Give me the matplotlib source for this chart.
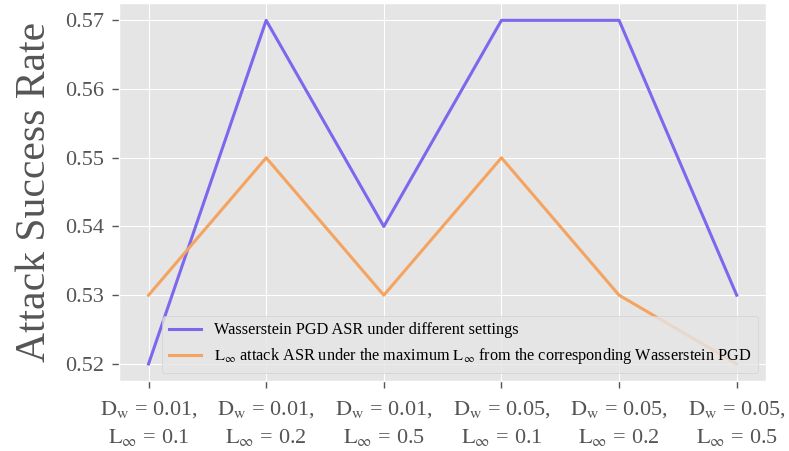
import matplotlib
matplotlib.use("Agg")
import matplotlib.pyplot as plt

plt.style.use("ggplot")
plt.rcParams["font.family"] = ["Liberation Serif", "DejaVu Serif"]
plt.rcParams["mathtext.fontset"] = "stix"

# settings (x axis)
dw = ["0.01", "0.01", "0.01", "0.05", "0.05", "0.05"]
linf = ["0.1", "0.2", "0.5", "0.1", "0.2", "0.5"]

# attack success rates
wasserstein_asr = [0.52, 0.57, 0.54, 0.57, 0.57, 0.53]
linf_asr = [0.53, 0.55, 0.53, 0.55, 0.53, 0.52]

labels = ["$\\mathrm{D_w}$ = %s,\n$\\mathrm{L_\\infty}$ = %s" % (a, b) for a, b in zip(dw, linf)]
x = list(range(len(labels)))

fig = plt.figure(figsize=(7.89, 4.51), dpi=100)
ax = fig.add_axes([0.151, 0.155, 0.82, 0.838])

ax.plot(x, wasserstein_asr, color="#7B68EE", linewidth=2.2,
        label="Wasserstein PGD ASR under different settings")
ax.plot(x, linf_asr, color="#F4A460", linewidth=2.2,
        label="$\\mathrm{L_\\infty}$ attack ASR under the maximum $\\mathrm{L_\\infty}$ from the corresponding Wasserstein PGD")

ax.set_xticks(x)
ax.set_xticklabels(labels, fontsize=16, linespacing=1.45)
ax.set_yticks([0.52, 0.53, 0.54, 0.55, 0.56, 0.57])
ax.set_yticklabels(["0.52", "0.53", "0.54", "0.55", "0.56", "0.57"], fontsize=16)
ax.tick_params(axis="x", direction="out", length=5, width=1, pad=8, color="#555555")
ax.tick_params(axis="y", direction="out", length=5, width=1, pad=6, color="#555555")
for t in ax.get_xticklabels() + ax.get_yticklabels():
    t.set_color("#555555")
ax.set_ylabel("Attack Success Rate", fontsize=30, color="#555555", labelpad=8)
ax.legend(loc="lower right", fontsize=11.7, facecolor="#E5E5E5")

fig.savefig("out.png", dpi=100)
